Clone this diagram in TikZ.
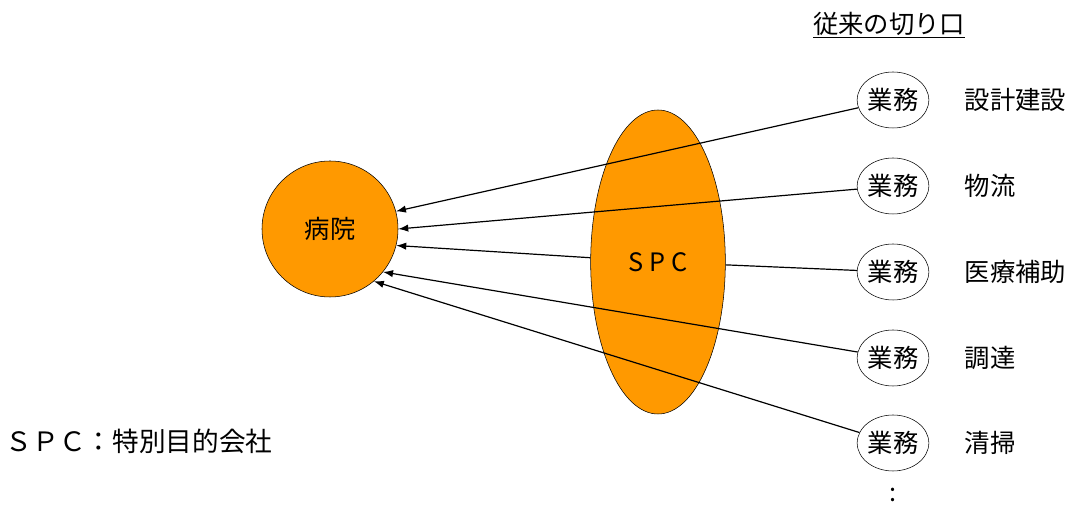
\documentclass[tikz,border=0pt]{standalone}
\usepackage{fontspec}
\newfontfamily\jpfont{Noto Sans CJK JP}
\usetikzlibrary{arrows.meta}
\usetikzlibrary{shapes.geometric}
\definecolor{spcorange}{HTML}{FF9900}
\tikzset{jp/.style = {font=\jpfont\fontsize{19}{22}\selectfont},
         gyomu/.style = {jp, draw, ellipse, inner sep=0pt,
                         minimum width=49.5pt, minimum height=42pt},
         arr/.style = {-{Latex[length=7.5pt, width=5.5pt]}, line width=0.9pt}}

\begin{document}
\begin{tikzpicture}[x=0.75pt, y=0.75pt]
    \useasboundingbox (0, 0) rectangle (1072, 506);

    \node [jp, draw, circle, fill=spcorange, minimum size=102pt] (hosp) at (330, 277) {病院};
    \node [jp, draw, ellipse, fill=spcorange, inner sep=0pt,
           minimum width=101pt, minimum height=228pt] (spc) at (658, 244) {S P C};

    \node [jp, anchor=south] (title) at (889, 463) {\underline{従来の切り口}};

    \foreach \y/\txt [count=\i] in {406/設計建設, 320/物流, 234/医療補助, 148/調達, 63/清掃} {
      \node [gyomu] (t\i) at (893, \y) {業務};
      \node [jp, anchor=west] (lbl\i) at (960, \y) {\txt};
    };

    \draw [arr] (t1) -- (hosp.15);
    \draw [arr] (t2) -- (hosp.0);
    \draw [line width=0.9pt] (t3) -- (spc);
    \draw [arr] (spc) -- (hosp.-14);
    \draw [arr] (t4) -- (hosp.-39);
    \draw [arr] (t5) -- (hosp.-50);

    \node [jp, font=\jpfont\fontsize{20}{23}\selectfont, anchor=west] (note) at (1, 65) {ＳＰＣ：特別目的会社};
    \node [jp] (more) at (893, 11) {:};
\end{tikzpicture}
\end{document}
